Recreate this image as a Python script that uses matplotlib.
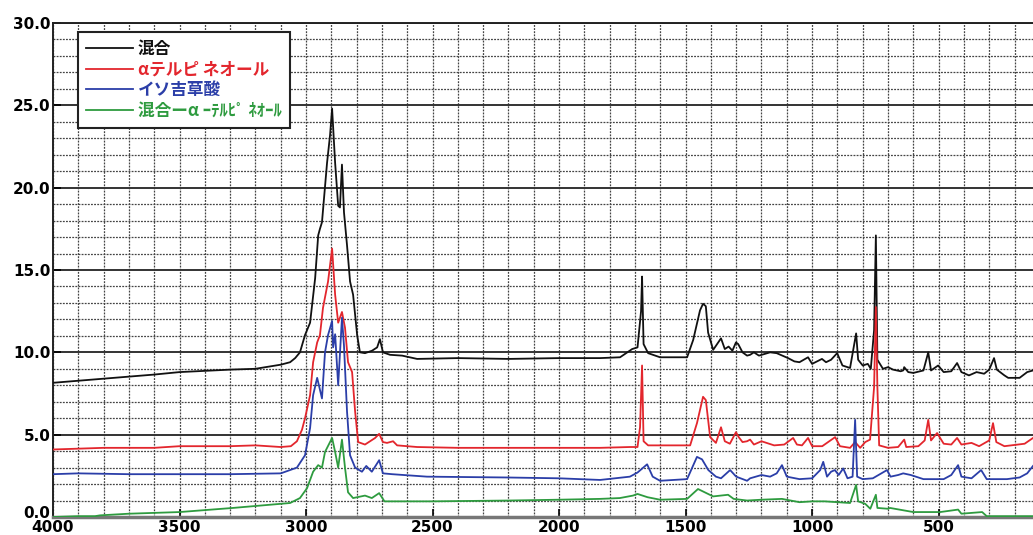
import numpy as np
import matplotlib.pyplot as plt
from matplotlib.ticker import MultipleLocator, FormatStrFormatter
from matplotlib.transforms import ScaledTranslation

# Raman spectra: mixture, alpha-terpineol, isovaleric acid and the difference
mix_w = [4000, 3800, 3600, 3500, 3300, 3200, 3100, 3063, 3043, 3024, 3004, 2984, 2964, 2952, 2945,
         2937, 2917, 2905, 2897, 2885, 2873, 2866, 2858, 2850, 2838, 2826, 2814, 2798, 2787, 2767,
         2739, 2719, 2708, 2696, 2668, 2620, 2561, 2400, 2200, 2000, 1838, 1759, 1711, 1690, 1676,
         1672, 1666, 1648, 1601, 1494, 1470, 1443, 1431, 1420, 1411, 1391, 1360, 1345, 1330, 1315,
         1301, 1292, 1275, 1257, 1245, 1230, 1210, 1166, 1140, 1095, 1070, 1050, 1016, 1000, 961,
         945, 925, 901, 880, 850, 826, 818, 800, 780, 768, 755, 748, 742, 720, 700, 680, 650, 640,
         636, 620, 600, 560, 541, 530, 502, 480, 450, 427, 410, 380, 350, 320, 300, 281, 270, 240,
         225, 180, 150, 127]
mix_i = [8.15, 8.4, 8.65, 8.8, 8.95, 9.0, 9.25, 9.4, 9.65, 10.0, 11.05, 11.8, 14.5, 17.1, 17.5,
         17.9, 21.5, 23.2, 24.8, 21.5, 18.9, 18.8, 21.4, 18.5, 16.5, 14.3, 13.5, 11.05, 10.0, 9.95,
         10.1, 10.3, 10.8, 10.0, 9.85, 9.8, 9.6, 9.65, 9.6, 9.65, 9.65, 9.7, 10.2, 10.3, 12.5,
         14.6, 10.5, 9.95, 9.7, 9.7, 10.75, 12.55, 12.95, 12.8, 11.2, 10.15, 10.85, 10.2, 10.35, 10.1,
         10.6, 10.5, 10.0, 9.8, 9.85, 10.0, 9.8, 10.0, 9.95, 9.65, 9.45, 9.4, 9.7, 9.3, 9.6,
         9.4, 9.55, 9.95, 9.2, 9.05, 11.15, 9.55, 9.2, 9.3, 9.0, 11.35, 17.1, 9.55, 9.0, 9.1, 8.95, 8.85, 8.9,
         9.1, 8.8, 8.75, 8.9, 10.0, 8.9, 9.2, 8.8, 8.85, 9.35, 8.8, 8.6, 8.8, 8.7, 8.95, 9.65, 8.95, 8.6,
         8.45, 8.45, 8.8, 8.9]

terp_w = [4000, 3800, 3600, 3500, 3300, 3200, 3100, 3060, 3036, 3016, 3004, 2984, 2972, 2956, 2945,
          2933, 2913, 2897, 2885, 2873, 2858, 2846, 2834, 2818, 2806, 2794, 2767, 2727, 2711, 2696,
          2680, 2656, 2640, 2561, 2400, 2000, 1838, 1720, 1690, 1680, 1672, 1666, 1648, 1482, 1455,
          1431, 1420, 1403, 1380, 1360, 1345, 1325, 1301, 1290, 1275, 1257, 1245, 1230, 1200, 1150,
          1110, 1075, 1060, 1040, 1016, 1000, 960, 909, 890, 850, 830, 810, 790, 771, 755, 748, 742,
          735, 700, 660, 636, 628, 580, 555, 541, 530, 506, 480, 450, 427, 410, 370, 340, 300, 285,
          272, 240, 160, 127]
terp_i = [4.1, 4.2, 4.2, 4.3, 4.3, 4.35, 4.25, 4.3, 4.6, 5.3, 6.0, 7.4, 9.4, 10.6, 11.05,
          12.7, 14.3, 16.3, 13.5, 11.8, 12.45, 11.5, 9.4, 8.8, 6.4, 4.55, 4.4, 4.8, 5.05, 4.55,
          4.5, 4.6, 4.35, 4.25, 4.2, 4.2, 4.2, 4.25, 4.25, 5.45, 9.2, 4.6, 4.35, 4.35, 5.7,
          7.3, 7.1, 4.85, 4.5, 5.45, 4.6, 4.45, 5.15, 4.85, 4.55, 4.6, 4.7, 4.4, 4.6, 4.35,
          4.4, 4.8, 4.4, 4.35, 4.8, 4.3, 4.3, 4.85, 4.3, 4.2, 4.55, 4.2, 4.55, 4.7, 7.9, 12.75, 7.9,
          4.35, 4.2, 4.25, 4.7, 4.25, 4.3, 4.65, 5.9, 4.65, 5.1, 4.45, 4.4, 4.8, 4.4, 4.5, 4.3, 4.65, 5.7,
          4.55, 4.3, 4.45, 4.8]

iso_w = [4000, 3900, 3700, 3500, 3300, 3100, 3036, 3004, 2984, 2972, 2956, 2937, 2925, 2913, 2897,
         2893, 2885, 2873, 2858, 2850, 2838, 2826, 2806, 2779, 2762, 2740, 2711, 2696, 2660, 2522,
         2206, 2000, 1838, 1720, 1690, 1652, 1630, 1601, 1494, 1455, 1435, 1410, 1380, 1360, 1324,
         1300, 1257, 1245, 1200, 1166, 1140, 1119, 1100, 1050, 1000, 968, 956, 941, 925, 910, 895,
         877, 860, 840, 830, 822, 800, 760, 704, 690, 660, 640, 610, 560, 480, 450, 423, 410, 370,
         332, 310, 230, 180, 150, 127]
iso_i = [2.6, 2.65, 2.6, 2.6, 2.6, 2.65, 3.0, 3.75, 5.4, 7.4, 8.45, 7.2, 10.0, 11.05, 11.9,
         10.3, 11.1, 8.0, 12.1, 10.4, 6.4, 3.75, 3.0, 2.75, 3.1, 2.75, 3.45, 2.65, 2.6, 2.45,
         2.4, 2.35, 2.25, 2.45, 2.7, 3.2, 2.45, 2.2, 2.3, 3.65, 3.5, 2.85, 2.45, 2.35, 2.85,
         2.45, 2.2, 2.35, 2.55, 2.45, 2.65, 3.15, 2.45, 2.3, 2.35, 2.85, 3.35, 2.45, 2.75, 2.85, 2.55,
         2.95, 2.35, 2.45, 5.9, 2.45, 2.3, 2.35, 2.85, 2.45, 2.55, 2.65, 2.55, 2.3, 2.3, 2.55, 3.15, 2.45, 2.35,
         2.85, 2.3, 2.3, 2.4, 2.65, 3.1]

diff_w = [4000, 3900, 3834, 3814, 3700, 3500, 3289, 3063, 3024, 2996, 2972, 2952, 2937, 2925, 2897,
          2885, 2873, 2858, 2846, 2834, 2814, 2767, 2740, 2711, 2690, 2500, 2200, 2000, 1838, 1760,
          1708, 1690, 1650, 1601, 1494, 1451, 1431, 1391, 1332, 1310, 1257, 1200, 1119, 1050, 1000,
          950, 900, 850, 826, 818, 790, 770, 748, 742, 700, 692, 600, 494, 423, 410, 328, 310, 127]
diff_i = [0.0, 0.05, 0.05, 0.1, 0.2, 0.3, 0.55, 0.85, 1.15, 1.75, 2.75, 3.15, 3.0, 3.95, 4.8,
          3.95, 3.0, 4.7, 3.0, 1.5, 1.15, 1.3, 1.15, 1.45, 0.95, 0.95, 1.0, 1.05, 1.1, 1.15,
          1.3, 1.4, 1.2, 1.05, 1.1, 1.7, 1.55, 1.25, 1.35, 1.1, 1.0, 1.05, 1.1, 0.9, 0.95,
          0.95, 0.9, 0.85, 1.95, 0.95, 0.8, 0.5, 1.35, 0.55, 0.5, 0.55, 0.3, 0.3, 0.45, 0.2, 0.3, 0.05, 0.05]

labels = ["混合", "αテルピ ネオール", "イソ吉草酸", "混合ーα ｰﾃﾙﾋﾟ ﾈｵｰﾙ"]
colors = ["#111111", "#e3262d", "#2b3ea8", "#2e9b3f"]

fig = plt.figure(figsize=(10.33, 5.35), dpi=100)
ax = fig.add_axes([53 / 1033, 18 / 535, 980 / 1033, 494 / 535])

series = [(mix_w, mix_i), (terp_w, terp_i), (iso_w, iso_i), (diff_w, diff_i)]
for (w, i), lab, c in zip(series, labels, colors):
    ax.plot(w, i, color=c, lw=1.3, label=lab, zorder=3)

ax.set_xlim(4000, 127)
ax.set_ylim(0, 30)

ax.set_xticks(np.arange(4000, 499, -500))
ax.xaxis.set_minor_locator(MultipleLocator(100))
ax.set_yticks(np.arange(0, 31, 5))
ax.set_yticks(np.arange(0, 31, 1), minor=True)
ax.yaxis.set_major_formatter(FormatStrFormatter('%.1f'))

ax.grid(True, which='major', axis='y', color='#333333', lw=1.4, ls='-')
ax.grid(True, which='minor', axis='y', color='#444444', lw=0.9, ls=(0, (1.5, 1)))
ax.grid(True, which='both', axis='x', color='#444444', lw=0.9, ls=(0, (1.5, 1)))

ax.tick_params(axis='both', which='major', direction='in', length=6, width=1.2, pad=2)
ax.tick_params(axis='both', which='minor', length=0)
ax.tick_params(axis='x', pad=2.5)
for t in ax.get_xticklabels() + ax.get_yticklabels():
    t.set_fontweight('bold')
    t.set_fontsize(11)

for s in ['top', 'left']:
    ax.spines[s].set_color('#222222')
    ax.spines[s].set_linewidth(1.4)
ax.spines['bottom'].set_color('#777777')
ax.spines['bottom'].set_linewidth(2.5)
ax.spines['right'].set_visible(False)

leg = ax.legend(loc='upper left', bbox_to_anchor=(0.0255, 0.982), fancybox=False,
                edgecolor='#222222', framealpha=1, handlelength=2.8, handletextpad=0.3,
                labelspacing=0.15, borderpad=0.5, borderaxespad=0,
                labelcolor='linecolor',
                prop={'family': ['Noto Sans CJK JP', 'DejaVu Sans'], 'size': 12, 'weight': 'bold'})
leg.get_frame().set_linewidth(1.5)
leg.set_zorder(5)

# lift the "0.0" label a little so it clears the "4000" label underneath
zero_lab = ax.yaxis.get_major_ticks()[0].label1
zero_lab.set_transform(zero_lab.get_transform() + ScaledTranslation(0, 5 / 100, fig.dpi_scale_trans))

fig.savefig('out.png', dpi=100)
